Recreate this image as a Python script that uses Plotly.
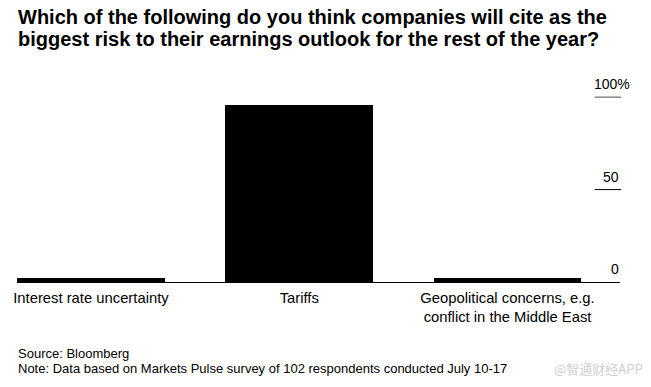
import plotly.graph_objects as go

categories = ["Interest rate uncertainty", "Tariffs", "Geopolitical concerns, e.g.<br>conflict in the Middle East"]
values = [2, 96, 2]
y_ticks = [0, 50, 100]
y_tick_labels = ["0", "50", "100%"]
title_lines = ["Which of the following do you think companies will cite as the",
               "biggest risk to their earnings outlook for the rest of the year?"]
source_lines = ["Source: Bloomberg",
                "Note: Data based on Markets Pulse survey of 102 respondents conducted July 10-17"]

fig = go.Figure()
fig.add_trace(go.Bar(
    x=list(range(len(categories))), y=values, width=0.71,
    marker=dict(color="#000000", line=dict(width=0)),
    hoverinfo="skip", showlegend=False,
))

W, H = 651, 387
L, R, T, B = 17, 31, 75, 105
FONT = "Liberation Sans, Arial, Helvetica, sans-serif"

fig.update_layout(
    width=W, height=H,
    margin=dict(l=L, r=R, t=T, b=B),
    paper_bgcolor="white", plot_bgcolor="white",
    font=dict(family=FONT, color="#000000"),
    xaxis=dict(
        range=[-0.355, 2.54], tickmode="array",
        tickvals=list(range(len(categories))), ticktext=categories,
        tickfont=dict(family=FONT, size=14.8, color="#000"),
        showgrid=False, zeroline=False, showline=True, linecolor="#000", linewidth=1,
        ticks="", fixedrange=True, ticklabelstandoff=2,
    ),
    yaxis=dict(
        range=[0, 112], showgrid=False, zeroline=False, showticklabels=False,
        showline=False, ticks="", fixedrange=True,
    ),
    bargap=0,
)

# Title (two lines, tight spacing)
for i, line in enumerate(title_lines):
    fig.add_annotation(
        xref="paper", yref="paper", x=0, y=1, xanchor="left", yanchor="middle",
        xshift=-1, yshift=T - (17 + 22 * i), align="left", showarrow=False,
        text=f"<b>{line}</b>",
        font=dict(size=20, family=FONT, color="#000"),
    )

# Y tick labels and short tick lines
line_colors = {0: None, 50: "#000000", 100: "#888888"}
for v, lab in zip(y_ticks, y_tick_labels):
    fig.add_annotation(
        xref="paper", yref="y", x=1.0, y=v, xanchor="right", yanchor="middle",
        xshift=(12 if lab.endswith("%") else 1), yshift=13, text=lab, showarrow=False,
        font=dict(size=14, family=FONT, color="#000"),
    )
    if line_colors[v]:
        fig.add_shape(type="line", xref="paper", yref="y", x0=0.958, x1=1.002, y0=v, y1=v,
                      line=dict(color=line_colors[v], width=1.5 if v == 100 else 1))

# Source / note
for i, line in enumerate(source_lines):
    fig.add_annotation(
        xref="paper", yref="paper", x=0, y=0, xanchor="left", yanchor="middle",
        xshift=-1, yshift=-(353 + 15 * i - (H - B)), align="left", showarrow=False,
        text=line,
        font=dict(size=13, family=FONT, color="#000"),
    )
# Watermark
fig.add_annotation(
    xref="paper", yref="paper", x=1.0, y=0, xanchor="right", yanchor="middle",
    xshift=R - 6, yshift=-(368 - (H - B)), showarrow=False,
    text="@智通财经APP",
    font=dict(size=13, family="Noto Sans CJK SC, sans-serif", color="#d0d0d0"),
)

fig.write_html("out.html", config={"displayModeBar": False},
               post_script="document.body.style.margin='0';window.dispatchEvent(new Event('resize'));")
